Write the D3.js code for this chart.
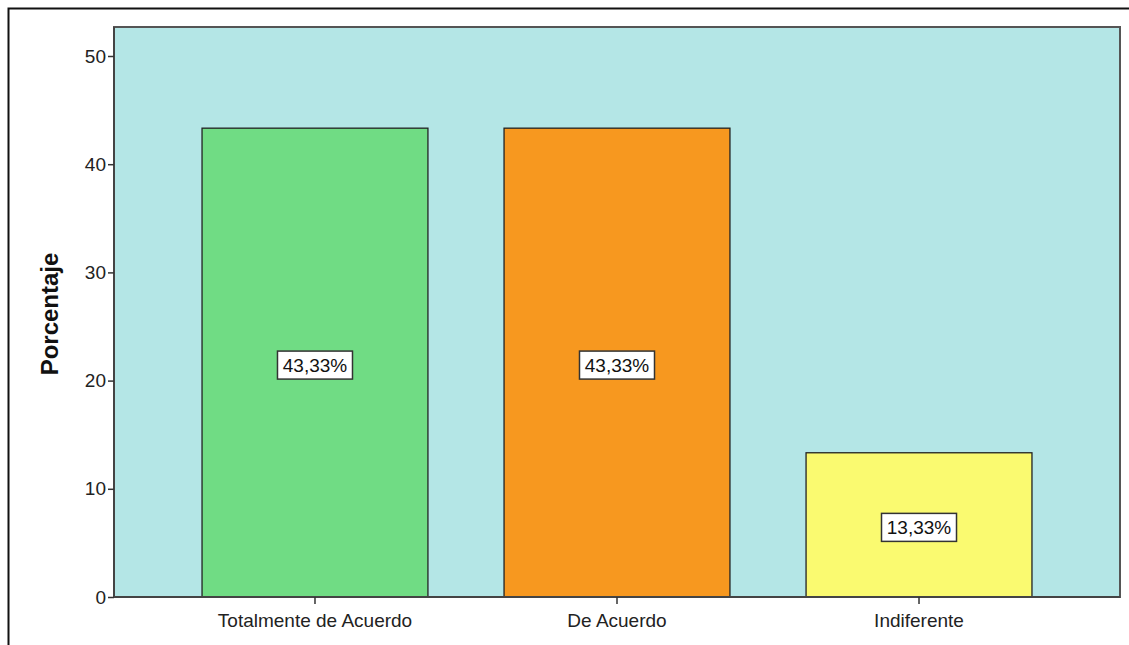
<!DOCTYPE html>
<html>
<head>
<meta charset="utf-8">
<script src="https://cdn.jsdelivr.net/npm/d3@7"></script>
<style>
  body { margin: 0; background: #fff; }
  svg { display: block; }
</style>
</head>
<body>
<script>
const categories = ["Totalmente de Acuerdo", "De Acuerdo", "Indiferente"];
const values = [43.33, 43.33, 13.33];
const labels = ["43,33%", "43,33%", "13,33%"];
const colors = ["#70dc84", "#f7981f", "#fafa70"];
const yTicks = [0, 10, 20, 30, 40, 50];

const W = 1129, H = 645;
const plot = { left: 114, right: 1120, top: 27, bottom: 597 };
const FONT = "Liberation Sans, Arial, sans-serif";

const svg = d3.select("body").append("svg").attr("width", W).attr("height", H);

// outer frame
svg.append("path")
  .attr("d", `M8.5,${H} L8.5,8.5 L${W},8.5`)
  .attr("fill", "none").attr("stroke", "#111").attr("stroke-width", 2);

const x = d3.scaleBand().domain(categories)
  .range([plot.left, plot.right]).paddingInner(0.252).paddingOuter(0.2915);
const y = d3.scaleLinear().domain([0, 52.68]).range([plot.bottom, plot.top]);

// plot background
svg.append("rect")
  .attr("x", plot.left).attr("y", plot.top)
  .attr("width", plot.right - plot.left).attr("height", plot.bottom - plot.top)
  .attr("fill", "#b4e6e6").attr("stroke", "#555").attr("stroke-width", 2);

// bars
svg.selectAll("rect.bar").data(categories).enter().append("rect")
  .attr("class", "bar")
  .attr("x", d => x(d)).attr("width", x.bandwidth())
  .attr("y", (d, i) => y(values[i])).attr("height", (d, i) => y(0) - y(values[i]))
  .attr("fill", (d, i) => colors[i]).attr("stroke", "#222").attr("stroke-width", 1.3);

// axes
const yAxis = d3.axisLeft(y).tickValues(yTicks).tickSize(6).tickPadding(2);
const gy = svg.append("g").attr("transform", `translate(${plot.left},0)`).call(yAxis);
const xAxis = d3.axisBottom(x).tickSize(7).tickPadding(10);
const gx = svg.append("g").attr("transform", `translate(0,${plot.bottom})`).call(xAxis);
[gy, gx].forEach(g => {
  g.select(".domain").attr("stroke", "#444").attr("stroke-width", 2);
  g.selectAll(".tick line").attr("stroke", "#333").attr("stroke-width", 1.5);
  g.selectAll(".tick text").attr("fill", "#222")
    .style("font-family", FONT).style("font-size", "19px");
});
gx.select(".domain").attr("d", `M${plot.left},0H${plot.right}`);
gy.select(".domain").attr("d", `M0,${plot.bottom}V${plot.top}`);

// axis title
svg.append("text")
  .attr("transform", `translate(58,${(plot.top + plot.bottom) / 2 + 2}) rotate(-90)`)
  .attr("text-anchor", "middle")
  .style("font-family", FONT)
  .style("font-size", "24px").style("font-weight", "bold").attr("fill", "#111")
  .text("Porcentaje");

// value labels
const lab = svg.selectAll("g.lab").data(categories).enter().append("g")
  .attr("class", "lab")
  .attr("transform", (d, i) => `translate(${x(d) + x.bandwidth() / 2},${(y(values[i]) + y(0)) / 2 + 2.5})`);
lab.append("rect")
  .attr("x", -37.5).attr("y", -14).attr("width", 75).attr("height", 28)
  .attr("fill", "#fff").attr("stroke", "#333").attr("stroke-width", 1.5);
lab.append("text")
  .attr("text-anchor", "middle").attr("dy", "0.36em")
  .style("font-family", FONT).style("font-size", "19px")
  .attr("fill", "#111")
  .text((d, i) => labels[i]);
</script>
</body>
</html>
